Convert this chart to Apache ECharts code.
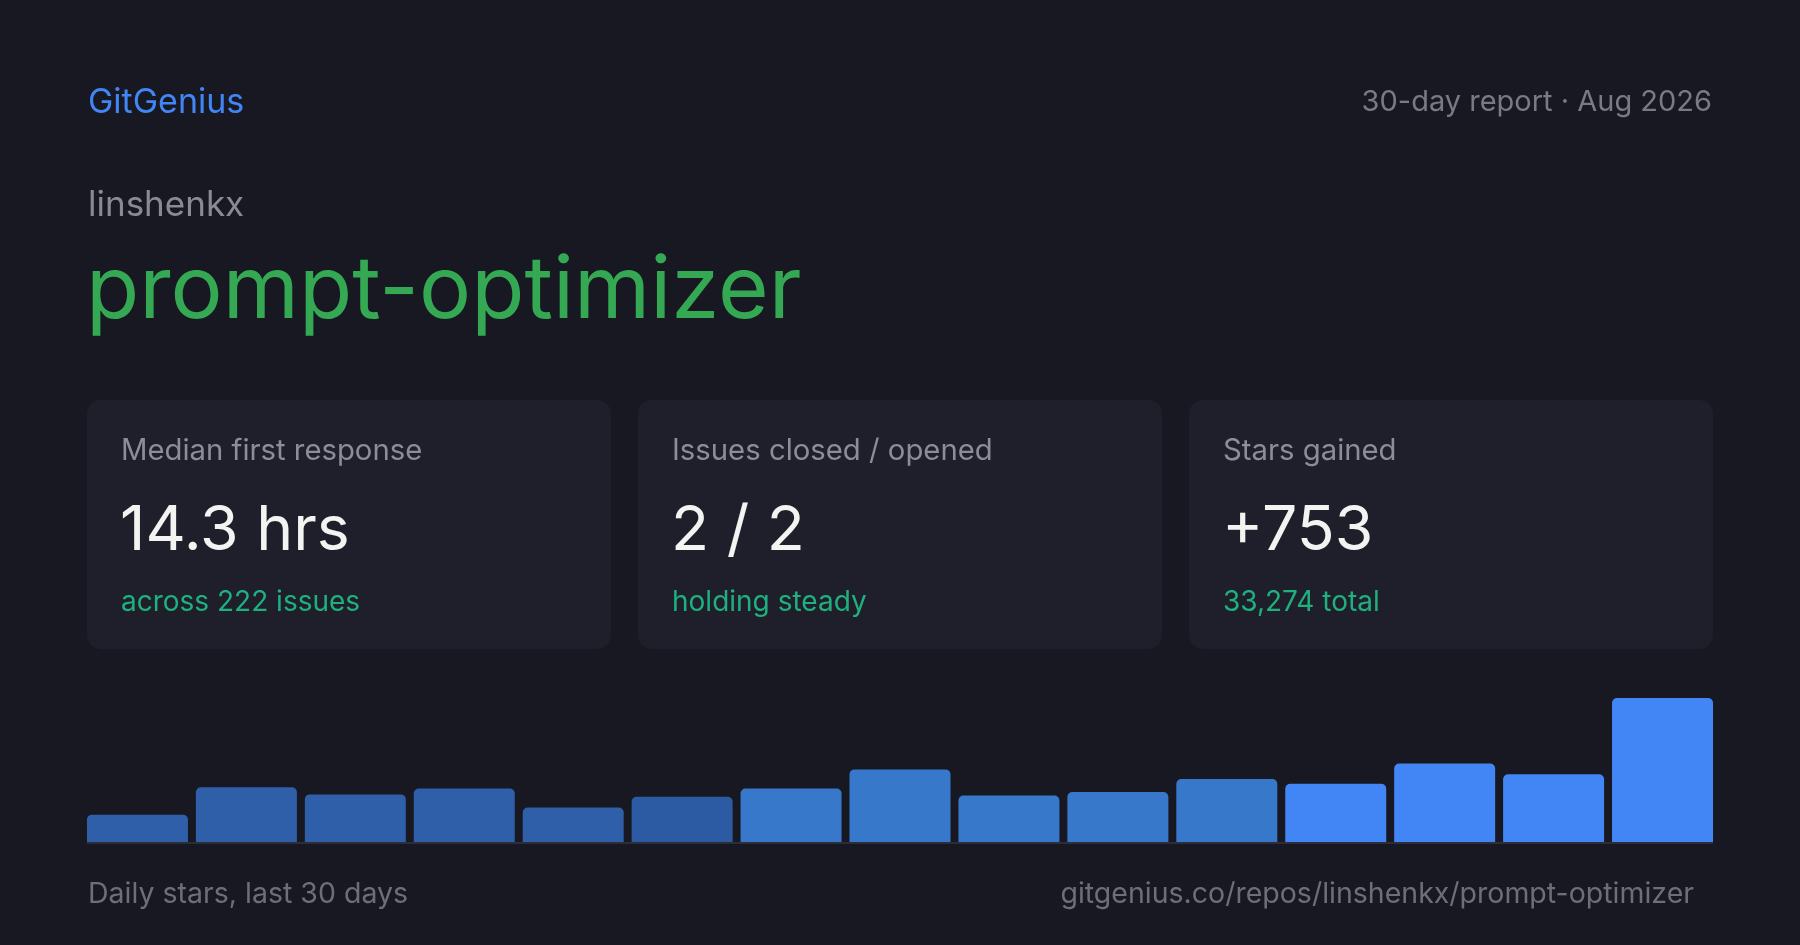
<!DOCTYPE html>
<html>
<head>
<meta charset="utf-8">
<script src="https://cdn.jsdelivr.net/npm/echarts@6/dist/echarts.min.js"></script>
<style>
  html, body { margin: 0; padding: 0; background: #171821; }
  #chart { width: 1800px; height: 945px; }
</style>
</head>
<body>
<div id="chart"></div>
<script>
// ---- data ----
const brand = "GitGenius";
const reportLabel = "30-day report \u00b7 Aug 2026";
const owner = "linshenkx";
const repo = "prompt-optimizer";
const cardLabels = ["Median first response", "Issues closed / opened", "Stars gained"];
const cardValues = ["14.3 hrs", "2 / 2", "+753"];
const cardNotes = ["across 222 issues", "holding steady", "33,274 total"];
const categories = ["1", "2", "3", "4", "5", "6", "7", "8", "9", "10", "11", "12", "13", "14", "15"];
const dailyStars = [23, 46, 40, 45, 29, 38, 45, 61, 39, 42, 53, 49, 66, 57, 121];
const footerLeft = "Daily stars, last 30 days";
const footerRight = "gitgenius.co/repos/linshenkx/prompt-optimizer";

// ---- styles ----
const barColors = ["#2f5fa8", "#2f5fa8", "#2f5fa8", "#2f5fa8", "#2f5fa8", "#2d5ba3",
                   "#3778cb", "#3778cb", "#3778cb", "#3778cb", "#3778cb",
                   "#4285f4", "#4285f4", "#4285f4", "#4285f4"];
const FONT = "Inter, 'Noto Sans', sans-serif";

const chart = echarts.init(document.getElementById('chart'), null, { renderer: 'canvas' });

const graphics = [];
function txt(x, y, text, size, color, align) {
  graphics.push({
    type: 'text', x: x, y: y, silent: true,
    style: { text: text, fill: color, font: size + 'px ' + FONT, textAlign: align || 'left', textVerticalAlign: 'middle' }
  });
}

// header
txt(88, 103, brand, 34, '#4285f4');
txt(1712, 102, reportLabel, 29, '#7a7a84', 'right');
txt(88, 205, owner, 35, '#8a8a94');
txt(86, 292, repo, 87, '#34a853');

// cards
const cardX = [87, 638, 1189];
const cardW = 524;
for (let i = 0; i < 3; i++) {
  graphics.push({
    type: 'rect', silent: true, z: -1,
    shape: { x: cardX[i], y: 400, width: cardW, height: 249, r: 14 },
    style: { fill: '#1f1f2b' }
  });
  txt(cardX[i] + 34, 451, cardLabels[i], 29.3, '#8d8d97');
  txt(cardX[i] + 33, 531, cardValues[i], 62.5, '#f3f3f1');
  txt(cardX[i] + 34, 603, cardNotes[i], 28, '#1fb07e');
}

// baseline
graphics.push({
  type: 'rect', silent: true,
  shape: { x: 87, y: 842, width: 1626, height: 2 },
  style: { fill: '#2c2d39' }
});

// footer
txt(88, 894, footerLeft, 28.5, '#6e6e78');
txt(1694, 894, footerRight, 28.5, '#6e6e78', 'right');

chart.setOption({
  backgroundColor: '#171821',
  animation: false,
  grid: { left: 83, right: 83, top: 698, bottom: 103, containLabel: false },
  xAxis: {
    type: 'category', data: categories,
    axisLine: { show: false }, axisTick: { show: false }, axisLabel: { show: false }, splitLine: { show: false }
  },
  yAxis: {
    type: 'value', min: 0, max: 'dataMax',
    axisLine: { show: false }, axisTick: { show: false }, axisLabel: { show: false }, splitLine: { show: false }
  },
  series: [{
    type: 'bar',
    data: dailyStars.map((v, i) => ({ value: v, itemStyle: { color: barColors[i] } })),
    barWidth: 101,
    itemStyle: { borderRadius: [5, 5, 0, 0] }
  }],
  graphic: graphics
});
</script>
</body>
</html>
